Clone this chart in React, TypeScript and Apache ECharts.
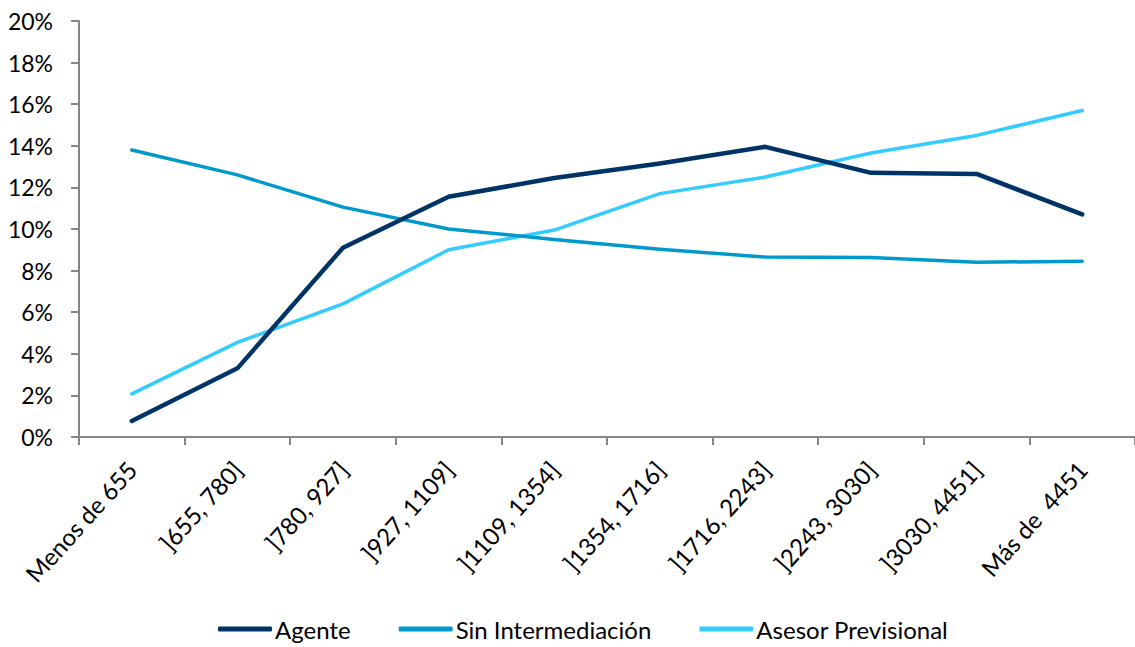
import React, { useEffect, useRef } from "react";
import * as echarts from "echarts";

const categories = [
  "Menos de 655",
  "]655, 780]",
  "]780, 927]",
  "]927, 1109]",
  "]1109, 1354]",
  "]1354, 1716]",
  "]1716, 2243]",
  "]2243, 3030]",
  "]3030, 4451]",
  "Más de  4451",
];

const agente = [0.77, 3.3, 9.1, 11.55, 12.45, 13.15, 13.95, 12.7, 12.65, 10.7];
const sinIntermediacion = [13.8, 12.6, 11.05, 10.0, 9.5, 9.03, 8.65, 8.63, 8.4, 8.45];
const asesorPrevisional = [2.07, 4.55, 6.4, 9.0, 9.95, 11.7, 12.5, 13.65, 14.5, 15.7];

const seriesNames = ["Agente", "Sin Intermediación", "Asesor Previsional"];
const colors = ["#003366", "#0099CC", "#33CCFF"];
const FONT = "Lato";

export default function App() {
  const ref = useRef<HTMLDivElement>(null);
  useEffect(() => {
    if (!ref.current) return;
    const chart = echarts.init(ref.current, undefined, { renderer: "svg" });
    const datas = [agente, sinIntermediacion, asesorPrevisional];
    const widths = [4.5, 3.5, 3.5];
    chart.setOption({
      animation: false,
      textStyle: { fontFamily: FONT },
      grid: { left: 79, right: -4, top: 21, bottom: 210 },
      legend: {
        top: 612,
        left: 213,
        itemWidth: 54,
        itemHeight: 5,
        itemGap: 48,
        icon: "roundRect",
        textStyle: { fontFamily: FONT, fontSize: 24, color: "#000", padding: [0, 0, 0, -2] },
        data: seriesNames,
      },
      xAxis: {
        type: "category",
        data: categories,
        boundaryGap: true,
        axisLine: { lineStyle: { color: "#868686", width: 2 } },
        axisTick: { show: true, length: 8, lineStyle: { color: "#868686", width: 2 } },
        axisLabel: {
          rotate: 48,
          interval: 0,
          margin: 28,
          fontFamily: FONT,
          fontSize: 24,
          color: "#000",
        },
      },
      yAxis: {
        type: "value",
        min: 0,
        max: 20,
        interval: 2,
        splitLine: { show: false },
        axisLine: { show: true, lineStyle: { color: "#868686", width: 2 } },
        axisTick: { show: true, length: 8, lineStyle: { color: "#868686", width: 2 } },
        axisLabel: {
          formatter: (v: number) => `${v}%`,
          margin: 26,
          fontFamily: FONT,
          fontSize: 23,
          color: "#000",
        },
      },
      series: seriesNames.map((name, i) => ({
        name,
        type: "line",
        data: datas[i],
        symbol: "none",
        showSymbol: false,
        color: colors[i],
        lineStyle: { color: colors[i], width: widths[i], cap: "round", join: "round" },
        itemStyle: { color: colors[i] },
        z: 3 - i,
      })),
    });
    return () => chart.dispose();
  }, []);
  return (
    <div
      ref={ref}
      style={{ position: "fixed", left: 0, top: 0, width: 1135, height: 647, background: "#fff" }}
    />
  );
}
